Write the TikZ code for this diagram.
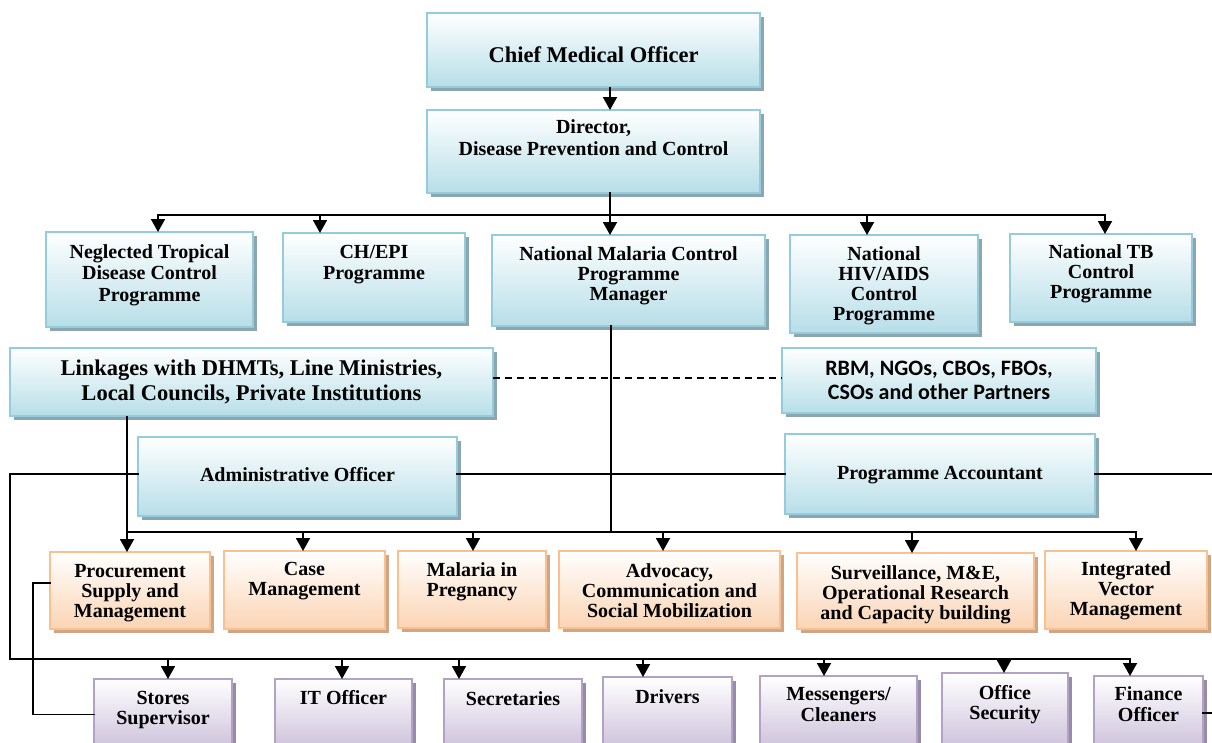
\documentclass[tikz,border=0pt]{standalone}
\usepackage{fontspec}
\setmainfont{Liberation Serif}
\newfontfamily\calfont{Carlito}
\usetikzlibrary{arrows.meta,shadows}
\definecolor{bbord}{RGB}{147,205,221}
\definecolor{bfill}{RGB}{183,222,232}
\definecolor{bshad}{RGB}{140,165,175}
\definecolor{obord}{RGB}{250,192,143}
\definecolor{ofill}{RGB}{251,212,180}
\definecolor{oshad}{RGB}{205,165,135}
\definecolor{pbord}{RGB}{179,162,199}
\definecolor{pfill}{RGB}{204,192,218}
\definecolor{pshad}{RGB}{150,140,165}
\newcommand{\bt}[4]{\parbox[c][#2pt][t]{#1pt}{\centering\vspace*{#3pt}\strut#4\par}}
\newcommand{\fBig}{\bfseries\fontsize{22.5}{25}\selectfont}
\newcommand{\fDir}{\bfseries\fontsize{20}{22}\selectfont}
\newcommand{\fMid}{\bfseries\fontsize{20}{21.5}\selectfont}
\newcommand{\fN}{\bfseries\fontsize{20}{20}\selectfont}
\newcommand{\fNa}{\bfseries\fontsize{20}{21}\selectfont}
\newcommand{\fCal}{\calfont\bfseries\fontsize{22}{24}\selectfont}
\begin{document}
\begin{tikzpicture}[x=1pt,y=-1pt,
  conn/.style={line width=1.8pt,line cap=rect},
  arr/.style={line width=1.8pt,-{Triangle[width=14pt,length=13pt]}},
  dsh/.style={line width=1.8pt,dash pattern=on 7pt off 5pt},
  bx/.style={draw,line width=1.8pt,inner sep=0pt,outer sep=0pt},
  blu/.style={bx,draw=bbord,top color=white,bottom color=bfill,
    general shadow={fill=bshad,shadow xshift=4pt,shadow yshift=-4pt}},
  ora/.style={bx,draw=obord,top color=white,bottom color=ofill,
    general shadow={fill=oshad,shadow xshift=4pt,shadow yshift=-4pt}},
  pur/.style={bx,draw=pbord,top color=white,bottom color=pfill,
    general shadow={fill=pshad,shadow xshift=4pt,shadow yshift=-4pt}}]
\useasboundingbox (0,0) rectangle (1212,742);
\fill[white] (0,0) rectangle (1212,742);
% top
\node[blu,font=\fBig] (cmo) at (593.5,50) {\bt{333}{74}{32}{Chief Medical Officer}};
\node[blu,font=\fDir] (dir) at (593.5,151.5) {\bt{333}{83}{8.1}{Director,\\Disease Prevention and Control}};
% programmes
\node[blu,font=\fMid] (ntd) at (149.5,279.5) {\bt{207}{95}{11.1}{Neglected Tropical\\Disease Control\\Programme}};
\node[blu,font=\fMid] (chepi) at (374,277.5) {\bt{182}{89}{10.1}{CH/EPI\\Programme}};
\node[blu,font=\fN] (nmcp) at (628.5,280.5) {\bt{273}{91}{11.5}{National Malaria Control\\Programme\\Manager}};
\node[blu,font=\fN] (hiv) at (884,284) {\bt{188}{98}{11.5}{National\\HIV/AIDS\\Control\\Programme}};
\node[blu,font=\fN] (tb) at (1101,278) {\bt{182}{88}{10.5}{National TB\\Control\\Programme}};
% linkages
\node[blu,font=\fBig] (link) at (251.5,382) {\bt{483}{68}{10.3}{Linkages with DHMTs, Line Ministries,\\Local Councils, Private Institutions}};
\node[blu,font=\fCal] (rbm) at (939,380.5) {\bt{314}{65}{10.2}{RBM, NGOs, CBOs, FBOs,\\CSOs and other Partners}};
% admin
\node[blu,font=\fNa] (admin) at (297.5,476.5) {\bt{319}{79}{29.8}{Administrative Officer}};
\node[blu,font=\fNa] (pa) at (940,474) {\bt{310}{80}{30.8}{Programme Accountant}};
% orange
\node[ora,font=\fN] (proc) at (130,590.5) {\bt{160}{77}{11.2}{Procurement\\Supply and\\Management}};
\node[ora,font=\fN] (case) at (304.5,590) {\bt{161}{78}{10.8}{Case\\Management}};
\node[ora,font=\fN] (mip) at (472,589.5) {\bt{148}{77}{11.5}{Malaria in\\Pregnancy}};
\node[ora,font=\fN] (adv) at (669.5,589.5) {\bt{221}{77}{12}{Advocacy,\\Communication and\\Social Mobilization}};
\node[ora,font=\fN] (surv) at (915.5,591) {\bt{237}{76}{12.2}{Surveillance, M\&E,\\Operational Research\\and Capacity building}};
\node[ora,font=\fN] (ivm) at (1126,590) {\bt{162}{78}{10.8}{Integrated\\Vector\\Management}};
% purple
\node[pur,font=\fN] (stores) at (163,714.5) {\bt{138}{71}{11.8}{Stores\\Supervisor}};
\node[pur,font=\fN] (itoff) at (343.5,714.5) {\bt{137}{71}{11.8}{IT Officer}};
\node[pur,font=\fN] (secr) at (513,714.5) {\bt{138}{71}{12.5}{Secretaries}};
\node[pur,font=\fN] (drv) at (667.5,713.5) {\bt{129}{73}{12.5}{Drivers}};
\node[pur,font=\fNa] (msg) at (838.5,713) {\bt{157}{74}{9.8}{Messengers/\\Cleaners}};
\node[pur,font=\fN] (osec) at (1005,711.5) {\bt{126}{77}{12.5}{Office\\Security}};
\node[pur,font=\fN] (fin) at (1148.5,713) {\bt{109}{74}{10.5}{Finance\\Officer}};
% coordinates
\coordinate (c0) at (610,100);
\coordinate (t1) at (158,215);
\coordinate (t2) at (320,215);
\coordinate (t3) at (610,215);
\coordinate (t4) at (867,215);
\coordinate (t5) at (1105,215);
\coordinate (dl) at (500,378);
\coordinate (m0) at (611,532);
\coordinate (m1) at (127,532);
\coordinate (m2) at (303,532);
\coordinate (m3) at (473,532);
\coordinate (m4) at (663,532);
\coordinate (m5) at (912,532);
\coordinate (m6) at (1136,532);
\coordinate (a0) at (10,474);
\coordinate (r0) at (1225,474);
\coordinate (r1) at (1225,713);
\coordinate (b0) at (10,659);
\coordinate (b1) at (168,659);
\coordinate (b2) at (342,659);
\coordinate (b3) at (459,659);
\coordinate (b4) at (643,659);
\coordinate (b5) at (824,659);
\coordinate (b6) at (1004,659);
\coordinate (b7) at (1130,659);
\coordinate (p0) at (33,583);
% connectors top
\draw[arr] (cmo.south -| c0) -- (dir.north -| c0);
\draw[conn] (dir.south -| t3) -- (t3);
\draw[conn] (t1) -- (t5);
\draw[arr] (t1) -- (t1 |- ntd.north);
\draw[arr] (t2) -- (t2 |- chepi.north);
\draw[arr] (t3) -- (t3 |- nmcp.north);
\draw[arr] (t4) -- (t4 |- hiv.north);
\draw[arr] (t5) -- (t5 |- tb.north);
% linkages
\draw[dsh] (link.east |- dl) -- (rbm.west |- dl);
\draw[conn] (nmcp.south -| m0) -- (m0);
\draw[conn] (m1) -- (m6);
\draw[arr] (link.south -| m1) -- (m1 |- proc.north);
\draw[arr] (m2) -- (m2 |- case.north);
\draw[arr] (m3) -- (m3 |- mip.north);
\draw[arr] (m4) -- (m4 |- adv.north);
\draw[arr] (m5) -- (m5 |- surv.north);
\draw[arr] (m6) -- (m6 |- ivm.north);
% admin / accountant
\draw[conn] (admin.west |- a0) -- (a0) -- (b0) -- (b7);
\draw[conn] (admin.east |- a0) -- (pa.west |- a0);
\draw[conn] (pa.east |- a0) -- (r0) -- (r1) -- (fin.east |- r1);
\draw[arr] (b1) -- (b1 |- stores.north);
\draw[arr] (b2) -- (b2 |- itoff.north);
\draw[arr] (b3) -- (b3 |- secr.north);
\draw[arr] (b4) -- (b4 |- drv.north);
\draw[arr] (b5) -- (b5 |- msg.north);
\draw[arr] (b6) -- (b6 |- osec.north);
\draw[arr] (b7) -- (b7 |- fin.north);
% procurement to stores
\draw[conn] (proc.west |- p0) -- (p0) -- (p0 |- stores.west) -- (stores.west);
\end{tikzpicture}
\end{document}
